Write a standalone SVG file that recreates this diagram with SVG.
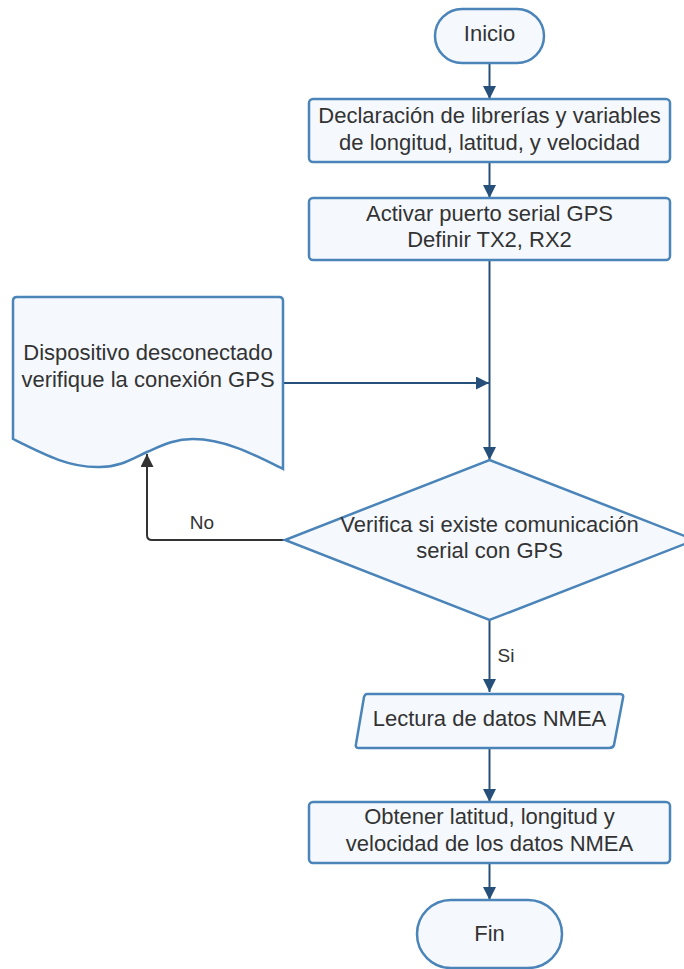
<svg xmlns="http://www.w3.org/2000/svg" width="684" height="969" viewBox="0 0 684 969">
<style>
.n{fill:#f5f9fe;stroke:#4a84b8;stroke-width:2.5}
.t{font-family:"Liberation Sans",Arial,sans-serif;font-size:22px;fill:#333;text-anchor:middle}
.l{font-family:"Liberation Sans",Arial,sans-serif;font-size:19px;fill:#333;text-anchor:middle}
.c{fill:none;stroke:#26507a;stroke-width:2;marker-end:url(#a)}
.g{fill:none;stroke:#333;stroke-width:2;marker-end:url(#b)}
</style>
<defs>
<marker id="a" markerUnits="userSpaceOnUse" viewBox="0 0 12 12" refX="12" refY="6" markerWidth="13" markerHeight="13" orient="auto"><path d="M0,0 L12,6 L0,12 z" fill="#26507a"/></marker>
<marker id="b" markerUnits="userSpaceOnUse" viewBox="0 0 12 12" refX="12" refY="6" markerWidth="13" markerHeight="13" orient="auto"><path d="M0,0 L12,6 L0,12 z" fill="#333"/></marker>
</defs>
<rect width="684" height="969" fill="#fff"/>
<g id="connectors">
<path class="c" d="M489.5,63 V99"/>
<path class="c" d="M489.5,162 V198"/>
<path class="c" d="M489.5,260 V460"/>
<path class="c" d="M283,383 H489"/>
<path class="g" d="M285,540 H152 Q147,540 147,535 V454"/>
<path class="c" d="M489.5,620 V692"/>
<path class="c" d="M489.5,748 V802"/>
<path class="c" d="M489.5,863 V900"/>
<text class="l" x="202" y="529">No</text>
<text class="l" x="506" y="662">Si</text>
</g>
<g id="inicio">
<rect class="n" x="435" y="9" width="109" height="54" rx="27"/>
<text class="t" x="489.5" y="41">Inicio</text>
</g>
<g id="declaracion">
<rect class="n" x="309" y="99" width="361" height="63" rx="4"/>
<text class="t" x="489.5" y="123">Declaración de librerías y variables</text>
<text class="t" x="489.5" y="150">de longitud, latitud, y velocidad</text>
</g>
<g id="activar">
<rect class="n" x="309" y="198" width="361" height="62" rx="4"/>
<text class="t" x="489.5" y="221">Activar puerto serial GPS</text>
<text class="t" x="489.5" y="247">Definir TX2, RX2</text>
</g>
<g id="dispositivo">
<path class="n" d="M17,297 H279 Q283,297 283,301 V469 C255,455 225,439 193,439 C175,439 163,445 147,452 C132,459 120,467 100,467 C70,468 45,455 13,439 V301 Q13,297 17,297 Z"/>
<text class="t" x="148" y="360">Dispositivo desconectado</text>
<text class="t" x="148" y="387">verifique la conexión GPS</text>
</g>
<g id="verifica">
<path class="n" d="M489.5,460 L695,540 L489.5,620 L285,540 Z"/>
<text class="t" x="489.5" y="532">Verifica si existe comunicación</text>
<text class="t" x="489.5" y="558">serial con GPS</text>
</g>
<g id="lectura">
<path class="n" d="M367,694 H620 Q624,694 623,698 L614,745 Q613,748 609,748 H359 Q355,748 356,744 L364,697 Q365,694 367,694 Z"/>
<text class="t" x="489.5" y="726">Lectura de datos NMEA</text>
</g>
<g id="obtener">
<rect class="n" x="309" y="802" width="361" height="61" rx="4"/>
<text class="t" x="489.5" y="824">Obtener latitud, longitud y</text>
<text class="t" x="489.5" y="851">velocidad de los datos NMEA</text>
</g>
<g id="fin">
<rect class="n" x="417" y="900" width="145" height="68" rx="34"/>
<text class="t" x="489.5" y="941">Fin</text>
</g>
</svg>
